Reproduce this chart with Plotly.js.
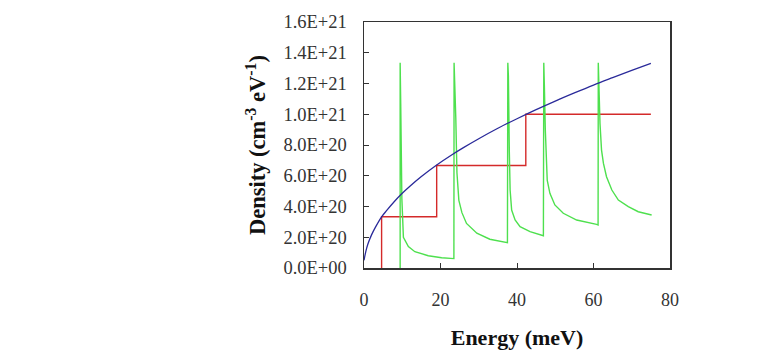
<!DOCTYPE html>
<html><head><meta charset="utf-8">
<script src="https://cdn.plot.ly/plotly-3.0.1.min.js"></script>
<style>html,body{margin:0;padding:0;background:#fff}</style>
</head><body><div id="chart" style="width:777px;height:363px"></div>
<script>
// Values in units of 1E+21 cm^-3 eV^-1, energy in meV
const blueE = [0,0.5,1,2,3,4.6,6,8,10,12,15,19,23,26,30,35,40,45,50,55,60,65,70,75];
const blueD = [0.05,0.11,0.155,0.217,0.266,0.333,0.376,0.434,0.486,0.532,0.595,0.67,0.737,0.783,0.841,0.909,0.971,1.03,1.086,1.139,1.19,1.238,1.285,1.331];

const redE = [4.6,4.6,19.0,19.0,42.3,42.3,75];
const redD = [0,0.333,0.333,0.667,0.667,1.0,1.0];

const greenE = [9.45,9.45,9.6,9.9,10.3,11.6,13.3,16.8,20.3,23.5,
  23.55,23.7,24.0,24.3,24.8,25.6,26.8,29.5,32.9,37.5,
  37.6,37.75,38.0,38.2,38.6,39.5,40.8,43.4,46.9,
  47.0,47.15,47.4,47.6,47.9,48.6,49.9,52.1,55.6,60.8,61.2,
  61.25,61.4,61.7,62.1,62.6,63.4,64.8,66.5,69.1,71.7,75.2];
const greenD = [0,1.335,1.07,0.45,0.2,0.139,0.106,0.08,0.067,0.061,
  1.335,1.216,0.976,0.62,0.44,0.36,0.29,0.226,0.187,0.165,
  1.335,1.25,0.75,0.507,0.377,0.312,0.269,0.236,0.21,
  1.335,1.19,0.9,0.724,0.572,0.486,0.41,0.356,0.312,0.284,0.28,
  1.335,1.2,0.94,0.767,0.68,0.594,0.507,0.442,0.399,0.366,0.345];

const yTickVals = [0,0.2,0.4,0.6,0.8,1.0,1.2,1.4,1.6];
const yTickText = ['0.0E+00','2.0E+20','4.0E+20','6.0E+20','8.0E+20','1.0E+21','1.2E+21','1.4E+21','1.6E+21'];
const xTickVals = [0,20,40,60,80];

const serif = 'Liberation Serif, Times New Roman, serif';
const traces = [
  {x: redE, y: redD, mode:'lines', line:{color:'#d42a2a', width:1.4}, hoverinfo:'skip'},
  {x: greenE, y: greenD, mode:'lines', line:{color:'#4ee04e', width:1.4}, hoverinfo:'skip'},
  {x: blueE, y: blueD, mode:'lines', line:{color:'#2a2a9a', width:1.3, shape:'spline'}, hoverinfo:'skip'}
];
const layout = {
  width:777, height:363, showlegend:false,
  paper_bgcolor:'#fff', plot_bgcolor:'#fff',
  margin:{l:364, r:107, t:22, b:95},
  font:{family:serif, color:'#222', size:18},
  xaxis:{range:[0,80], tickvals:xTickVals, ticks:'inside', ticklen:5, tickcolor:'#333',
    showline:true, mirror:true, linecolor:'#333', linewidth:1.5, showgrid:false, zeroline:false,
    ticklabelstandoff:15, tickfont:{family:serif, size:18, color:'#333'},
    title:{text:'<b>Energy (meV)</b>', font:{family:serif, size:22, color:'#111'}, standoff:20}},
  yaxis:{range:[0,1.6], tickvals:yTickVals, ticktext:yTickText, ticks:'inside', ticklen:5, tickcolor:'#333',
    showline:true, mirror:true, linecolor:'#333', linewidth:1.5, showgrid:false, zeroline:false,
    ticklabelstandoff:12, tickfont:{family:serif, size:18.5, color:'#333'},
    title:{text:'<b>Density (cm<sup>-3</sup> eV<sup>-1</sup>)</b>', font:{family:serif, size:22.5, color:'#111'}, standoff:11}}
};
Plotly.newPlot('chart', traces, layout, {staticPlot:true, displayModeBar:false});
</script></body></html>
